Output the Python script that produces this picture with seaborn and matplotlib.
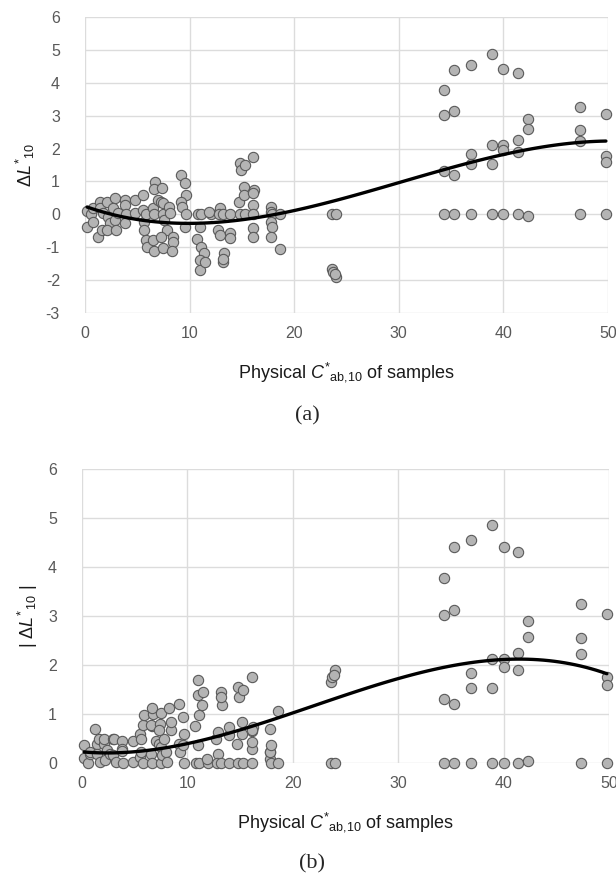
import numpy as np
import pandas as pd
import matplotlib
matplotlib.use("Agg")
import matplotlib.pyplot as plt
import seaborn as sns

# Physical chroma C*ab,10 of samples
chroma = [0.15, 0.2, 0.6, 0.8, 0.8, 1.2, 1.4, 1.4, 1.6, 1.75, 2.1, 2.2, 2.4, 2.1, 2.9, 2.7, 2.9, 3.0, 3.2,
          3.8, 3.8, 3.9, 3.8, 4.8, 4.8, 5.5, 5.5, 5.6, 5.6, 5.8, 5.9, 5.8,
          6.7, 6.6, 6.5, 6.6, 6.5, 6.6, 7.0, 7.4, 7.3, 7.5, 7.5, 7.6, 7.5, 7.8, 8.0, 8.1, 8.4, 8.4, 8.3, 7.3,
          9.2, 9.6, 9.7, 9.2, 9.3, 9.7, 9.6,
          10.7, 10.8, 11.0, 11.1, 11.4, 11.0, 11.0, 11.5, 11.1, 12.0, 11.9,
          12.9, 12.8, 12.7, 12.9, 13.3, 13.2, 13.2, 13.2, 13.9, 13.9, 13.9,
          14.7, 14.8, 14.8, 14.9, 15.3, 15.2, 15.2, 15.3,
          16.1, 16.2, 16.1, 16.1, 16.1, 16.1, 16.1,
          17.8, 17.8, 17.9, 17.8, 17.9, 17.8, 18.6, 18.6,
          23.6, 24.0, 23.6, 23.7, 24.0, 23.9,
          34.35, 34.35, 34.35, 34.35, 35.25, 35.25, 35.25, 35.25,
          36.9, 36.9, 36.9, 36.9, 38.9, 38.9, 38.9, 38.9,
          40.0, 40.0, 40.0, 40.0, 41.4, 41.4, 41.4, 41.4, 42.35, 42.35, 42.35,
          47.3, 47.3, 47.3, 47.3, 49.8, 49.8, 49.8, 49.8]

# Delta L*10
delta_l = [0.11, -0.37, 0.0, 0.18, -0.22, -0.7, 0.38, 0.18, -0.48, 0.03, 0.38, -0.07, -0.27, -0.48, 0.49, 0.18, -0.17, -0.48, 0.03,
           0.44, 0.28, 0.0, -0.25, 0.44, 0.03, 0.59, 0.13, -0.22, -0.48, -0.78, -0.98, 0.0,
           0.99, 0.76, 0.18, 0.0, -0.78, -1.13, 0.44, 0.79, 0.38, 0.0, 0.33, -0.17, -1.03, -0.48, 0.23, 0.03, -0.68, -0.83, -1.13, -0.68,
           1.2, 0.94, 0.59, 0.38, 0.23, 0.0, -0.37,
           -0.76, 0.0, -0.37, -0.98, -1.19, -1.39, -1.69, -1.44, 0.0, 0.0, 0.08,
           0.18, 0.0, -0.48, -0.63, -1.19, -1.44, -1.35, 0.0, -0.58, -0.73, 0.0,
           0.38, 0.0, 1.55, 1.35, 1.5, 0.84, 0.59, 0.0,
           1.75, 0.74, 0.66, 0.28, 0.0, -0.43, -0.68,
           0.23, 0.08, 0.0, -0.22, -0.37, -0.7, 0.0, -1.06,
           0.0, 0.0, -1.65, -1.75, -1.9, -1.8,
           3.77, 3.03, 1.31, 0.0, 4.4, 3.13, 1.2, 0.0,
           4.55, 1.84, 1.54, 0.0, 4.86, 2.12, 1.54, 0.0,
           4.41, 2.12, 1.95, 0.0, 4.3, 2.25, 1.9, 0.0, 2.9, 2.58, -0.04,
           3.25, 2.55, 2.22, 0.0, 3.05, 1.76, 1.6, 0.0]

# Trendline (3rd-order polynomial) values
trend_a_x = [0.2, 10.0, 13.0, 20.5, 30.1, 39.7, 47.3, 49.8]
trend_a_y = [0.22, -0.27, -0.23, 0.14, 0.98, 1.79, 2.20, 2.22]
trend_b_x = [0.2, 5.5, 14.3, 20.7, 22.6, 30.2, 39.7, 42.8, 49.8]
trend_b_y = [0.23, 0.23, 0.64, 1.05, 1.22, 1.76, 2.10, 2.10, 1.83]

x_ticks = [0, 10, 20, 30, 40, 50]
y_ticks_a = [-3, -2, -1, 0, 1, 2, 3, 4, 5, 6]
y_ticks_b = [0, 1, 2, 3, 4, 5, 6]

df = pd.DataFrame({"C": chroma, "dL": delta_l})
df["absdL"] = df["dL"].abs()
ta = pd.DataFrame({"x": trend_a_x, "y": trend_a_y})
tb = pd.DataFrame({"x": trend_b_x, "y": trend_b_y})

sns.set_theme(style="whitegrid")
plt.rcParams["font.family"] = ["Liberation Sans", "DejaVu Sans"]
plt.rcParams["axes.unicode_minus"] = False
plt.rcParams["mathtext.fontset"] = "custom"
plt.rcParams["mathtext.rm"] = "Liberation Sans"
plt.rcParams["mathtext.it"] = "Liberation Sans:italic"
plt.rcParams["mathtext.bf"] = "Liberation Sans:bold"

fig = plt.figure(figsize=(6.16, 8.81), dpi=100)
ax1 = fig.add_axes([85/616, 1-313/881, 523/616, 296/881])
ax2 = fig.add_axes([82/616, 1-763/881, 527/616, 294/881])

grid_c = "#dcdcdc"
tick_c = "#595959"

def style(ax, yticks, ylim, ylabel):
    ax.set_facecolor("white")
    ax.set_xlim(0, 50)
    ax.set_ylim(*ylim)
    ax.set_xticks(x_ticks)
    ax.set_yticks(yticks)
    ax.grid(True, color=grid_c, linewidth=1.0)
    for s in ax.spines.values():
        s.set_visible(False)
    ax.tick_params(axis="both", length=0, labelsize=11.5, colors=tick_c)
    ax.tick_params(axis="y", pad=18)
    ax.tick_params(axis="x", pad=9)
    ax.set_xlabel(r"Physical $C^{*}{}_{\mathrm{ab{,}10}}$ of samples", fontsize=13, color="#1a1a1a", labelpad=14)
    ax.set_ylabel(ylabel, fontsize=13, color="#1a1a1a", labelpad=6)

pt_kw = dict(s=55, color="#b4b4b4", edgecolor="#5a5a5a", linewidth=0.8, clip_on=False, zorder=3, legend=False)
line_kw = dict(color="black", linewidth=2.4, zorder=4)

sns.scatterplot(data=df, x="C", y="dL", ax=ax1, **pt_kw)
sns.regplot(data=ta, x="x", y="y", ax=ax1, order=3, ci=None, scatter=False, line_kws=line_kw)
style(ax1, y_ticks_a, (-3, 6), r"$\Delta L^{*}{}_{10}$")

sns.scatterplot(data=df, x="C", y="absdL", ax=ax2, **pt_kw)
sns.regplot(data=tb, x="x", y="y", ax=ax2, order=3, ci=None, scatter=False, line_kws=line_kw)
style(ax2, y_ticks_b, (0, 6), r"| $\Delta L^{*}{}_{10}$ |")

fig.text(307/616, 1-416/881, "(a)", ha="center", va="center", fontsize=16, family="Liberation Serif")
fig.text(312/616, 1-864/881, "(b)", ha="center", va="center", fontsize=16, family="Liberation Serif")

fig.savefig("out.png", dpi=100)
